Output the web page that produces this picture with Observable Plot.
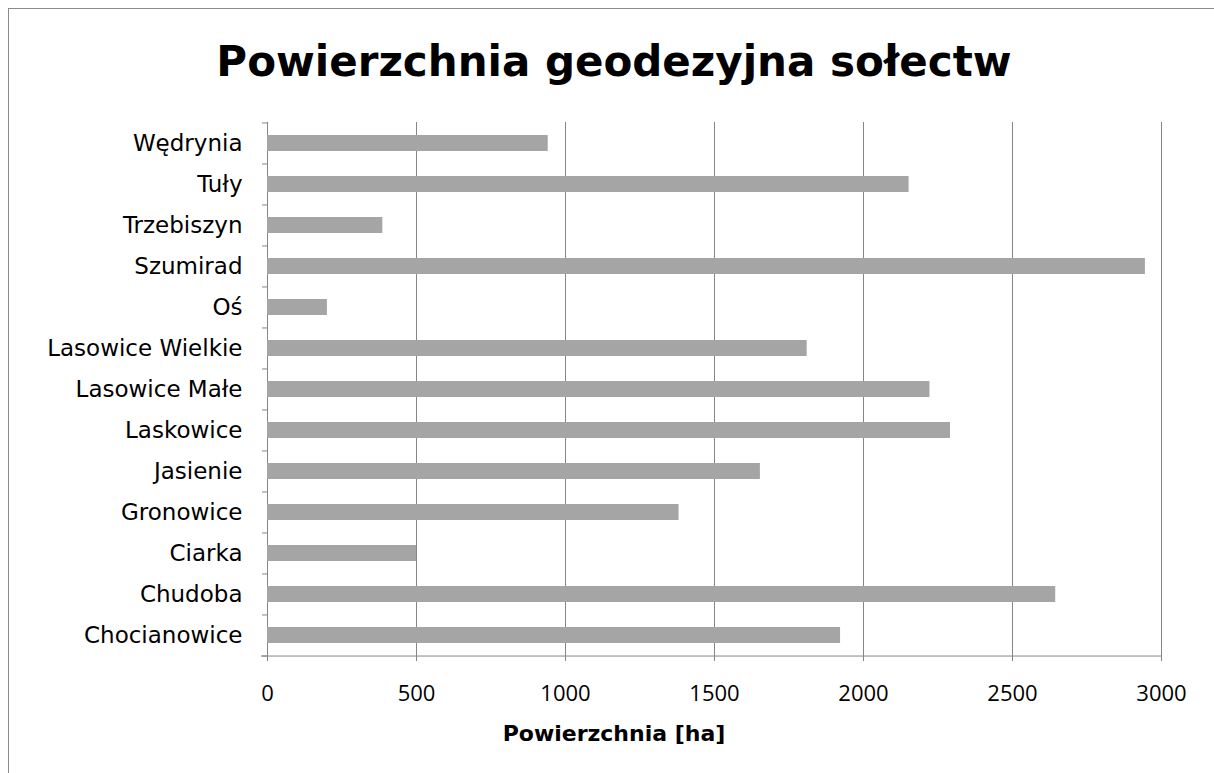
<!DOCTYPE html>
<html>
<head>
<meta charset="utf-8">
<script src="https://cdn.jsdelivr.net/npm/d3@7"></script>
<script src="https://cdn.jsdelivr.net/npm/@observablehq/plot@0.6"></script>
<style>
  html, body { margin: 0; padding: 0; background: #fff; overflow: hidden; }
  #wrap { position: relative; width: 1214px; height: 773px; overflow: hidden; }
  #border { position: absolute; left: 8px; top: 8px; width: 1260px; height: 820px; border: 1.5px solid #8c8c8c; box-sizing: border-box; }
  #chart { position: absolute; left: 0; top: 0; }
  #title { position: absolute; left: 0; width: 1228px; top: 41px; text-align: center; font: bold 42px "DejaVu Sans"; line-height: 42px; color: #000; white-space: nowrap; }
  #xlabel { position: absolute; left: 0; width: 1228px; top: 723px; text-align: center; font: bold 22px "DejaVu Sans"; line-height: 22px; color: #000; white-space: nowrap; }
</style>
</head>
<body>
<div id="wrap">
  <div id="border"></div>
  <div id="chart"></div>
  <div id="title"></div>
  <div id="xlabel"></div>
</div>
<script>
const categories = ["Chocianowice", "Chudoba", "Ciarka", "Gronowice", "Jasienie", "Laskowice", "Lasowice Małe", "Lasowice Wielkie", "Oś", "Szumirad", "Trzebiszyn", "Tuły", "Wędrynia"];
const values = [1923, 2645, 500, 1381, 1654, 2292, 2223, 1811, 201, 2946, 387, 2153, 942];
const xTicks = [0, 500, 1000, 1500, 2000, 2500, 3000];
const titleText = "Powierzchnia geodezyjna sołectw";
const xLabelText = "Powierzchnia [ha]";

document.getElementById("title").textContent = titleText;
document.getElementById("xlabel").textContent = xLabelText;

const data = categories.map((c, i) => ({name: c, value: values[i]}));
const W = 1214, H = 773, mt = 122, mb = 117, ml = 267, mr = 53;
const step = (H - mt - mb) / categories.length;
const order = categories.slice().reverse();
const gridColor = "#868686";

const chart = Plot.plot({
  width: W, height: H,
  marginTop: mt, marginBottom: mb, marginLeft: ml, marginRight: mr,
  style: {background: "transparent", overflow: "visible"},
  x: {domain: [xTicks[0], xTicks[xTicks.length - 1]], axis: null},
  y: {domain: order, paddingInner: 0.6, paddingOuter: 0.3, axis: null},
  marks: [
    Plot.ruleX(xTicks, {stroke: gridColor, strokeWidth: 1}),
    Plot.barX(data, {y: "name", x: "value", fill: "#a5a5a5"}),
    Plot.ruleY([categories[0]], {dy: step / 2, stroke: gridColor, insetLeft: -6}),
    Plot.axisX(xTicks, {tickSize: 5, tickPadding: 24, stroke: gridColor, fill: "#000", fontSize: 22, fontFamily: "Open Sans", tickFormat: d => String(d), label: null}),
    Plot.axisY(order, {tickSize: 5, dy: -step / 2, text: null, stroke: gridColor, label: null}),
    Plot.axisY([categories[0]], {tickSize: 5, dy: step / 2, text: null, stroke: gridColor, label: null}),
    Plot.axisY(order, {tickSize: 0, tickPadding: 25, fill: "#000", fontSize: 23, fontFamily: "DejaVu Sans", label: null})
  ]
});
document.getElementById("chart").appendChild(chart);
</script>
</body>
</html>
